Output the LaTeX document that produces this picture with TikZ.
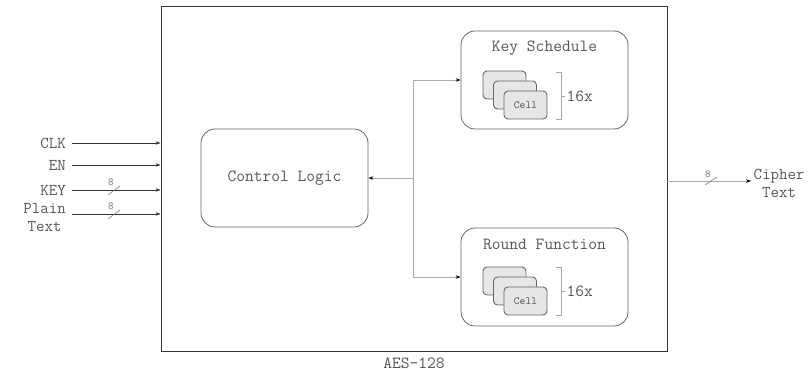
\documentclass[tikz,border=0pt]{standalone}
\usepackage{fontspec}
\setmainfont{Latin Modern Mono}
\usetikzlibrary{arrows.meta,calc}
\definecolor{txt}{HTML}{555555}
\definecolor{edge}{HTML}{666666}
\definecolor{wire}{HTML}{AAAAAA}
\definecolor{cellfill}{HTML}{E6E6E6}
\tikzset{
  lbl/.style={text=txt,font=\fontsize{16.5}{18}\selectfont,inner sep=0pt},
  big/.style={font=\fontsize{17}{18}\selectfont},
  blk/.style={draw=edge,line width=0.8pt,rounded corners=14pt,inner sep=0pt},
  cellbox/.style={draw=edge,line width=0.9pt,fill=cellfill,rounded corners=4pt,minimum width=43pt,minimum height=28pt,inner sep=0pt,text=txt,font=\fontsize{11}{12}\selectfont},
  inwire/.style={draw=black!80,line width=0.5pt,-{Stealth[length=5pt,width=3.5pt]}},
  gwire/.style={draw=wire,line width=0.9pt},
  garrow/.style={gwire,-{Stealth[length=5pt,width=3.5pt,color=black]}},
  busmark/.style={draw=black!50,line width=0.6pt},
  buslbl/.style={text=txt!80,font=\fontsize{10.5}{11}\selectfont,inner sep=0pt},
  brk/.style={draw=wire,line width=0.9pt}
}
\begin{document}
\begin{tikzpicture}[x=1pt,y=-1pt]
\useasboundingbox (0,0) rectangle (812,371);
% outer box
\node[draw=black!80,line width=0.9pt,minimum width=506pt,minimum height=345pt,inner sep=0pt] (outer) at (414,178.5) {};
\node[lbl,big] (aes) at (414,363) {AES-128};
% control logic
\node[blk,minimum width=167pt,minimum height=98pt,lbl,big] (cl) at (284.5,178) {Control Logic};
% key schedule
\node[blk,minimum width=167pt,minimum height=98pt] (ks) at (544.5,80) {};
\node[lbl,big] (kst) at (544.5,48) {Key Schedule};
\node[cellbox] (k1) at (504.5,85) {};
\node[cellbox] (k2) at (515,95) {};
\node[cellbox] (k3) at (525.5,105) {Cell};
\coordinate (kb1) at (556,72);
\coordinate (kb2) at (556,119);
\draw[brk] (kb1) -- ++(5,0) -- ++(0,47) -- (kb2);
\draw[brk] ($(kb1)+(5,24)$) -- ++(3.5,0) coordinate (kt);
\node[lbl,big,anchor=west] (k16) at ($(kt)+(2,0)$) {16x};
% round function
\node[blk,minimum width=167pt,minimum height=98pt] (rf) at (544.5,277) {};
\node[lbl,big] (rft) at (544.5,244) {Round Function};
\node[cellbox] (r1) at (504.5,281) {};
\node[cellbox] (r2) at (515,291) {};
\node[cellbox] (r3) at (525.5,301) {Cell};
\coordinate (rb1) at (556,267);
\coordinate (rb2) at (556,315);
\draw[brk] (rb1) -- ++(5,0) -- ++(0,48) -- (rb2);
\draw[brk] ($(rb1)+(5,24)$) -- ++(3.5,0) coordinate (rt);
\node[lbl,big,anchor=west] (r16) at ($(rt)+(2,0)$) {16x};
% internal wiring
\coordinate (split) at (413.5,178);
\draw[garrow] (split) |- (ks.west);
\draw[garrow] (split) |- (rf.west);
\draw[garrow] (split) -- (cl.east);
% inputs
\node[lbl,anchor=east] (clk) at (66,143) {CLK};
\node[lbl,anchor=east] (en) at (66,165) {EN};
\node[lbl,anchor=east] (key) at (66,190) {KEY};
\node[lbl,align=center,anchor=east] (pt) at (66,218) {Plain\\Text};
\draw[inwire] ($(clk.east)+(6,0)$) -- (outer.west |- clk.east);
\draw[inwire] ($(en.east)+(6,0)$) -- (outer.west |- en.east);
\draw[inwire] ($(key.east)+(6,0)$) -- (outer.west |- key.east);
\coordinate (ptin) at (72,214);
\draw[inwire] (ptin) -- (outer.west |- ptin);
\draw[busmark] (108,195) -- (120,186);
\node[buslbl] (k8) at (111,182) {8};
\draw[busmark] (108,219) -- (120,210);
\node[buslbl] (p8) at (111,206) {8};
% output
\node[lbl,align=center] (ct) at (779,183) {Cipher\\Text};
\coordinate (ctin) at (751,181);
\draw[garrow] (outer.east |- ctin) -- (ctin);
\draw[busmark] (705,185) -- (717,177);
\node[buslbl] (o8) at (708,174) {8};
\end{tikzpicture}
\end{document}
